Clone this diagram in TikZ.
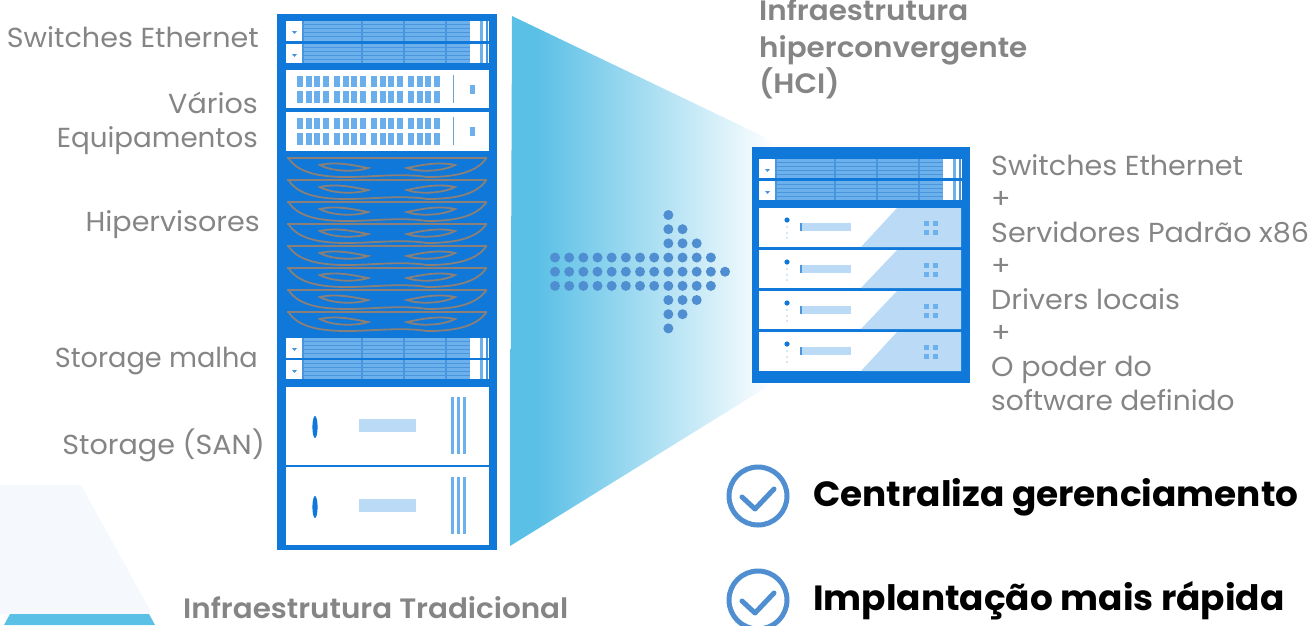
\documentclass[tikz,border=0pt]{standalone}
\usepackage{fontspec}
\setmainfont{Poppins}
\newfontfamily\labfont[FakeStretch=1.04]{Poppins}
\newfontfamily\headfont[FakeStretch=1.05]{Poppins SemiBold}
\newfontfamily\benfont[FakeStretch=1.025]{Poppins Bold}
\usetikzlibrary{calc}
\definecolor{rackblue}{HTML}{0F78D8}
\definecolor{stripe}{HTML}{6DB1EC}
\definecolor{stripedark}{HTML}{4A96DE}
\definecolor{pale}{HTML}{BBDAF5}
\definecolor{cyanband}{HTML}{5BC0E6}
\definecolor{dotblue}{HTML}{4F8ED0}
\definecolor{labelgray}{HTML}{858585}
\definecolor{palepanel}{HTML}{F5F9FD}
\definecolor{cableg}{HTML}{8A8078}
\pgfdeclarehorizontalshading{wedgefade}{100bp}{color(0bp)=(cyanband); color(30bp)=(cyanband); color(75bp)=(white); color(100bp)=(white)}
\tikzset{
  x=1pt,y=-1pt,
  lab/.style={inner sep=0pt,text=labelgray,font=\labfont\fontsize{27.5}{32}\selectfont},
  labl/.style={lab,anchor=base west},
  labr/.style={lab,anchor=base east},
  head/.style={inner sep=0pt,anchor=base west,text=labelgray,font=\headfont\fontsize{28}{32}\selectfont},
  benefit/.style={inner sep=0pt,anchor=base west,text=black,font=\benfont\fontsize{35}{40}\selectfont},
  tick/.style={circle,fill=dotblue,draw=none,inner sep=0pt,minimum size=10pt},
  checkring/.style={circle,draw=dotblue,line width=5pt,inner sep=0pt,minimum size=58pt},
  checkmark/.style={draw=dotblue,line width=5pt,line cap=round,line join=round},
  cable/.style={draw=cableg,line width=1.8pt}
}
\newcommand{\swunit}[3]{% x0, ytop, ybot
  \fill[white] (#1,#2) rectangle (#1+203,#3);
  \fill[stripe] (#1+17,#2) rectangle (#1+184,#3);
  \foreach \k in {3,7,11,15}{\draw[stripedark,line width=.8pt] (#1+17,#2+\k) -- (#1+184,#2+\k);}
  \foreach \d in {0,59,101,143,184}{\fill[stripedark] (#1+\d+16,#2) rectangle (#1+\d+18,#3);}
  \fill[stripe] (#1+194,#2) rectangle (#1+197,#3);
  \fill[stripedark] (#1+6,#2+10) -- (#1+11,#2+10) -- (#1+8.5,#2+13) -- cycle;
}
\newcommand{\bladeunit}[2]{% ytop, ybot
  \fill[white] (286,#1) rectangle (489,#2);
  \foreach \gx in {297,334,371,408}{\foreach \cx in {0,8.5,17,25.5}{
    \fill[stripe!90!stripedark] (\gx+\cx,#1+6) rectangle (\gx+\cx+6,#1+17);
    \fill[stripe!90!stripedark] (\gx+\cx,#1+21) rectangle (\gx+\cx+6,#1+33);
  }}
  \fill[stripe!70!gray] (452.5,#1+5) rectangle (454,#1+33);
  \fill[stripe] (470,#1+15) rectangle (475,#1+24);
}
\newcommand{\hypunit}[1]{% ytop
  \begin{scope}[shift={(287,#1)}]
    \draw[cable] (0,0) -- (200,0);
    \draw[cable] (2,1) .. controls (10,12) and (25,19) .. (60,19) .. controls (85,19) and (115,15) .. (140,19) .. controls (175,19) and (190,12) .. (199,1);
    \draw[cable] (33,7) .. controls (50,3) and (70,8) .. (81,10) .. controls (70,14) and (45,14) .. (33,7) -- cycle;
    \draw[cable] (168,7) .. controls (150,3) and (130,8) .. (120,10) .. controls (130,14) and (155,14) .. (168,7) -- cycle;
  \end{scope}
}
\newcommand{\storunit}[2]{% ytop, ybot
  \fill[white] (286,#1) rectangle (489,#2);
  \fill[rackblue] (315,#1+40) ellipse [x radius=2.6,y radius=11];
  \fill[pale] (359,#1+32) rectangle (416,#1+45);
  \foreach \lx in {451,457,463}{\fill[stripe] (\lx,#1+10) rectangle (\lx+3,#1+67);}
}
\newcommand{\hciunit}[2]{% ytop, ybot
  \fill[white] (759,#1) rectangle (961,#2);
  \fill[pale] (897,#1) -- (961,#1) -- (961,#2) -- (861,#2) -- cycle;
  \fill[rackblue] (787,#1+12) circle (2.6);
  \foreach \dy in {19,25,30}{\fill[stripedark] (787,#1+\dy) circle (.7);}
  \fill[pale] (800,#1+15) rectangle (851,#1+23);
  \fill[stripedark] (800,#1+15) rectangle (802,#1+23);
  \foreach \qx/\qy in {924/13,933/13,924/22,933/22}{\fill[stripe] (\qx,#1+\qy) rectangle (\qx+5,#1+\qy+5);}
}
\begin{document}
\begin{tikzpicture}
\useasboundingbox (0,0) rectangle (1309,625);
% bottom-left panel
\fill[palepanel] (0,485) -- (81,485) -- (150,610) -- (150,614) -- (0,614) -- cycle;
\fill[cyanband] (10,614) -- (149,614) -- (155,625) -- (4,625) -- cycle;
% wedge
\shade[shading=wedgefade]
  (512,16) -- (775,142) -- (775,382) -- (510,546) -- cycle;
% traditional rack
\fill[rackblue] (277,14) rectangle (497,550);
\swunit{286}{21}{41}
\swunit{286}{44}{63}
\bladeunit{70}{108}
\bladeunit{112}{151}
\foreach \hy in {158,180,202,224,246,268,290,312}{\hypunit{\hy}}
\swunit{286}{338}{358}
\swunit{286}{360}{379}
\storunit{387}{465}
\storunit{467}{545}
% HCI rack
\fill[rackblue] (752,147) rectangle (970,383);
\swunit{759}{159}{178}
\swunit{759}{181}{200}
\hciunit{208}{247}
\hciunit{250}{288}
\hciunit{291}{329}
\hciunit{332}{371}
% dotted arrow
\foreach \r/\a/\b in {0/0/12,-1/0/11,1/0/11,-2/8/10,2/8/10,-3/8/9,3/8/9,-4/8/8,4/8/8}{
  \foreach \k in {\a,...,\b}{
    \node[tick] (d\k r\r) at (555+14.17*\k,271.7+14.17*\r) {};
  }
}
% left labels
\node[labr] (l1) at (259,47) {Switches Ethernet};
\node[labr] (l2) at (258,113) {Vários};
\node[labr,xscale=.97] (l3) at (258,147) {Equipamentos};
\node[labr] (l4) at (260,231) {Hipervisores};
\node[labr,xscale=.95] (l5) at (258,367) {Storage malha};
\node[labr] (l6) at (265,454) {Storage (SAN)};
\node[head] (t0) at (183,618) {Infraestrutura Tradicional};
% HCI title
\node[head] (h1) at (759,20) {Infraestrutura};
\node[head] (h2) at (759,57) {hiperconvergente};
\node[head] (h3) at (759,93) {(HCI)};
% right labels
\node[labl] (r1) at (991,175) {Switches Ethernet};
\node[labl] (r2) at (991,208) {+};
\node[labl] (r3) at (991,242) {Servidores Padrão x86};
\node[labl] (r4) at (991,275) {+};
\node[labl] (r5) at (991,309) {Drivers locais};
\node[labl] (r6) at (991,342) {+};
\node[labl] (r7) at (991,376) {O poder do};
\node[labl,xscale=.98] (r8) at (991,410) {software definido};
% benefits
\node[checkring] (c1) at (758,496) {};
\draw[checkmark] ($(c1)+(-16,1)$) -- ($(c1)+(-3,13)$) -- ($(c1)+(16,-7)$);
\node[benefit] (b1) at (813,506) {Centraliza gerenciamento};
\node[checkring] (c2) at (758,600) {};
\draw[checkmark] ($(c2)+(-16,1)$) -- ($(c2)+(-3,13)$) -- ($(c2)+(16,-7)$);
\node[benefit] (b2) at (813,610) {Implantação mais rápida};
\end{tikzpicture}
\end{document}
